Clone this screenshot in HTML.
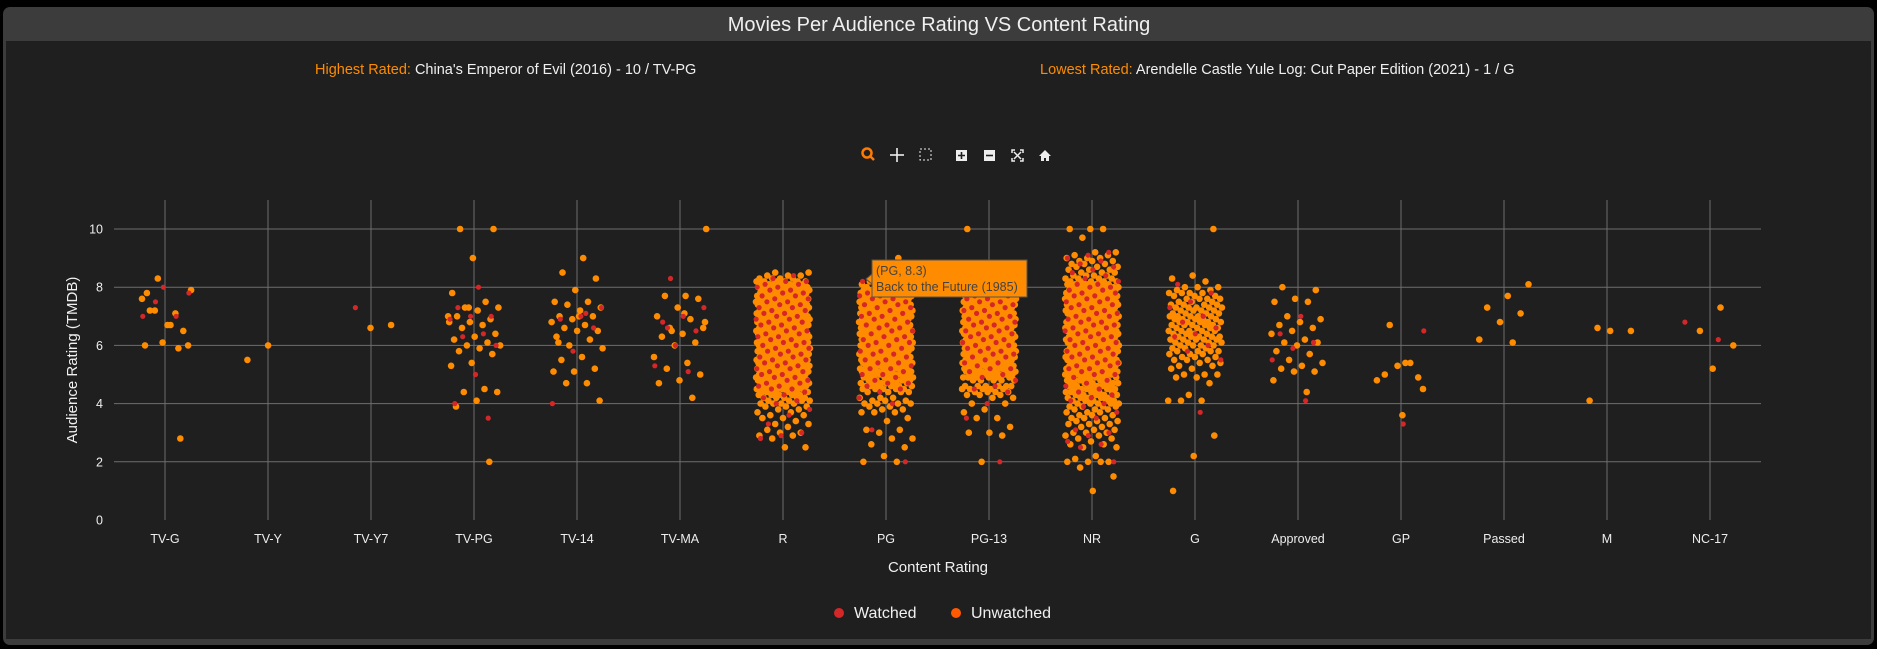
<!DOCTYPE html>
<html><head><meta charset="utf-8"><style>
html,body{margin:0;padding:0;background:#000;}
svg{display:block;font-family:"Liberation Sans","DejaVu Sans",sans-serif;}
</style></head><body>
<svg id="chart" width="1877" height="649" viewBox="0 0 1877 649">
<rect x="3" y="7" width="1871" height="638" rx="7" fill="#3c3c3c"/>
<rect x="6" y="41" width="1865" height="598" fill="#1f1f1f"/>
<text x="939" y="31" text-anchor="middle" font-size="20" fill="#f0f0f0">Movies Per Audience Rating VS Content Rating</text>
<text x="315" y="74" font-size="14.5"><tspan fill="#ff8c00">Highest Rated:</tspan><tspan fill="#f0f0f0"> China's Emperor of Evil (2016) - 10 / TV-PG</tspan></text>
<text x="1040" y="74" font-size="14.5"><tspan fill="#ff8c00">Lowest Rated:</tspan><tspan fill="#f0f0f0"> Arendelle Castle Yule Log: Cut Paper Edition (2021) - 1 / G</tspan></text>
<g id="toolbar">
  <g><circle cx="867" cy="153" r="4.5" fill="none" stroke="#ff7a00" stroke-width="2.5"/><line x1="870" y1="156" x2="874" y2="160" stroke="#ff7a00" stroke-width="2.5"/></g>
  <g stroke="#eee" stroke-width="1.6"><line x1="897" y1="148" x2="897" y2="162"/><line x1="890" y1="155" x2="904" y2="155"/></g>
  <rect x="920" y="149" width="11" height="11" fill="none" stroke="#eee" stroke-dasharray="2,2"/>
  <g><rect x="956" y="150" width="11" height="11" fill="#eee"/><path d="M958 155.5h7M961.5 152v7" stroke="#1f1f1f" stroke-width="1.6"/></g>
  <g><rect x="984" y="150" width="11" height="11" fill="#eee"/><path d="M986 155.5h7" stroke="#1f1f1f" stroke-width="1.6"/></g>
  <g fill="none" stroke="#eee" stroke-width="1.5"><path d="M1012 153v-3h3M1020 150h3v3M1023 158v3h-3M1015 161h-3v-3M1014 152l7 7M1021 152l-7 7"/></g>
  <g><path d="M1039 156l6-6 6 6h-2v5h-3v-3h-2v3h-3v-5z" fill="#eee"/></g>
</g>
<g id="grid"></g>
<g id="marks"></g>
<g id="tooltip">
  <path d="M866 279l6-5v10z" fill="#ff8c00" stroke="#555" stroke-width="1"/>
  <rect x="872" y="260" width="155" height="37" fill="#ff8c00" stroke="#555" stroke-width="1"/>
  <text x="876" y="275" font-size="12.5" fill="#444">(PG, 8.3)</text>
  <text x="876" y="291" font-size="12.5" fill="#444">Back to the Future (1985)</text>
</g>
<text x="938" y="572" text-anchor="middle" font-size="15" fill="#f0f0f0">Content Rating</text>
<text transform="translate(77,360) rotate(-90)" text-anchor="middle" font-size="15" fill="#f0f0f0">Audience Rating (TMDB)</text>
<g>
  <g><circle cx="839" cy="613" r="5" fill="#d62728"/><text x="854" y="618" font-size="16" fill="#f0f0f0">Watched</text></g>
  <g><circle cx="956" cy="613" r="5" fill="#ff5a00"/><text x="971" y="618" font-size="16" fill="#f0f0f0">Unwatched</text></g>
</g>
</svg>
<script>
const categories = ["TV-G","TV-Y","TV-Y7","TV-PG","TV-14","TV-MA","R","PG","PG-13","NR","G","Approved","GP","Passed","M","NC-17"];
const yTicks = [0,2,4,6,8,10];

const tvgUnwatched = [6.0,5.9,8.3,7.9,6.7,7.2,6.5,6.1,7.6,7.1,7.2,6.0,6.7,7.8,2.8];
const tvgWatched = [8.0,7.0,7.0,7.5,7.8];
const tvyUnwatched = [6.0,5.5];
const tvy7Unwatched = [6.7,6.6];
const tvy7Watched = [7.3];
const tvpgUnwatched = [10,10,9.0,7.8,7.5,7.3,7.3,7.2,7.0,6.9,6.8,6.8,6.7,6.6,6.4,6.3,6.2,6.1,6.0,6.0,5.9,5.8,5.7,5.4,5.3,4.5,4.4,4.4,4.1,3.9,2.0,7.3,7.0];
const tvpgWatched = [8.0,7.3,7.0,7.0,6.9,6.4,6.3,6.0,5.0,4.0,3.5];
const tv14Unwatched = [9.0,8.5,8.3,7.9,7.5,7.5,7.4,7.3,7.2,7.0,7.0,6.9,6.8,6.7,6.6,6.5,6.5,6.3,6.2,6.0,5.9,5.6,5.5,5.2,5.1,5.1,4.7,4.7,4.1,7.0,6.1];
const tv14Watched = [7.3,7.0,6.9,6.6,5.8,4.0,7.1];
const tvmaUnwatched = [10,7.7,7.7,7.6,7.3,7.0,6.9,6.6,6.6,6.4,6.3,6.1,6.0,5.6,5.4,5.2,5.0,4.8,4.7,4.2,6.5,6.8,7.1];
const tvmaWatched = [8.3,7.3,7.0,6.8,6.5,6.0,5.3,5.1,6.6];
const approvedUnwatched = [8.0,7.9,7.6,7.5,7.5,7.0,6.9,6.8,6.7,6.6,6.5,6.4,6.2,6.1,6.1,6.0,5.8,5.7,5.5,5.4,5.3,5.2,5.1,5.1,4.8,4.4];
const approvedWatched = [7.0,6.4,6.1,5.9,5.5,4.1];
const gpUnwatched = [5.4,5.0,4.9,5.3,4.8,5.4,6.7,4.5,3.6];
const gpWatched = [6.5,3.3];
const passedUnwatched = [8.1,7.7,7.3,7.1,6.8,6.2,6.1];
const mUnwatched = [6.6,6.5,6.5,4.1];
const nc17Unwatched = [7.3,6.5,6.0,5.2];
const nc17Watched = [6.8,6.2];

const rVals = [8.5,8.4,8.3,8.2,8.1,8.0,7.9,7.8,7.7,7.6,7.5,7.4,7.3,7.2,7.1,7.0,6.9,6.8,6.7,6.6,6.5,6.4,6.3,6.2,6.1,6.0,5.9,5.8,5.7,5.6,5.5,5.4,5.3,5.2,5.1,5.0,4.9,4.8,4.7,4.6,4.5,4.4,4.3,4.2,4.1,4.0,3.9,3.8,3.7,3.6,3.5,3.4,3.3,3.2,3.1,3.0,2.9,2.8,2.5];
const rUnwatchedCounts = [2,3,4,6,7,8,8,9,9,9,9,9,9,9,9,10,9,9,9,9,9,9,9,9,9,10,9,9,9,9,9,9,9,9,9,9,8,8,8,8,8,6,5,5,4,4,3,2,2,2,2,1,2,1,1,2,2,1,2];
const rWatchedCounts = [0,1,1,2,2,2,2,2,2,2,2,2,2,2,2,2,2,2,2,2,2,2,2,2,2,2,2,2,2,2,2,2,2,2,2,2,2,2,2,2,2,1,1,1,1,1,0,1,0,1,0,0,1,0,0,1,1,1,0];
const pgVals = [9.0,8.3,8.2,8.1,8.0,7.9,7.8,7.7,7.6,7.5,7.4,7.3,7.2,7.1,7.0,6.9,6.8,6.7,6.6,6.5,6.4,6.3,6.2,6.1,6.0,5.9,5.8,5.7,5.6,5.5,5.4,5.3,5.2,5.1,5.0,4.9,4.8,4.7,4.6,4.5,4.4,4.2,4.1,4.0,3.9,3.8,3.7,3.5,3.4,3.1,3.0,2.8,2.6,2.5,2.2,2.0];
const pgUnwatchedCounts = [1,2,3,4,6,7,7,7,8,8,8,8,8,8,8,8,8,8,8,8,8,8,8,8,8,8,8,8,8,8,7,7,7,7,7,6,6,6,6,5,4,3,3,4,2,2,3,1,1,2,1,2,1,1,1,2];
const pgWatchedCounts = [0,0,1,1,1,2,2,2,2,2,2,2,1,2,2,2,1,2,2,2,1,2,2,2,2,1,2,2,1,2,2,1,2,1,2,1,1,2,1,1,1,1,0,1,0,0,0,0,0,1,0,0,0,0,0,1];
const pg13Vals = [10,8.4,8.3,8.2,8.1,8.0,7.9,7.8,7.7,7.6,7.5,7.4,7.3,7.2,7.1,7.0,6.9,6.8,6.7,6.6,6.5,6.4,6.3,6.2,6.1,6.0,5.9,5.8,5.7,5.6,5.5,5.4,5.3,5.2,5.1,5.0,4.9,4.8,4.6,4.5,4.4,4.3,4.2,4.0,3.8,3.7,3.5,3.2,3.0,2.9,2.0];
const pg13UnwatchedCounts = [1,3,4,5,6,7,7,8,8,8,8,8,8,8,8,8,8,8,8,8,8,8,8,8,8,8,8,8,8,8,8,8,8,7,7,7,6,5,6,5,4,3,2,2,1,1,2,1,2,1,1];
const pg13WatchedCounts = [0,1,1,1,2,2,2,2,2,2,2,2,2,2,2,2,2,2,2,2,2,2,2,2,2,2,2,2,2,2,1,2,1,2,1,1,1,1,1,1,1,0,0,1,0,0,1,0,0,0,1];
const nrVals = [10,9.7,9.2,9.1,9.0,8.9,8.8,8.7,8.6,8.5,8.4,8.3,8.2,8.1,8.0,7.9,7.8,7.7,7.6,7.5,7.4,7.3,7.2,7.1,7.0,6.9,6.8,6.7,6.6,6.5,6.4,6.3,6.2,6.1,6.0,5.9,5.8,5.7,5.6,5.5,5.4,5.3,5.2,5.1,5.0,4.9,4.8,4.7,4.6,4.5,4.4,4.3,4.2,4.1,4.0,3.9,3.8,3.7,3.6,3.5,3.4,3.3,3.2,3.1,3.0,2.9,2.8,2.7,2.6,2.5,2.2,2.1,2.0,1.8,1.5,1.0];
const nrUnwatchedCounts = [3,1,2,2,3,3,3,3,3,3,4,4,5,7,8,8,9,9,9,9,9,9,9,9,9,9,9,9,9,9,9,9,9,9,9,9,9,9,9,9,9,9,9,9,8,6,6,6,6,6,6,5,5,5,5,4,3,3,3,3,3,3,2,2,3,2,2,1,2,2,1,1,4,1,1,1];
const nrWatchedCounts = [0,0,1,1,1,1,1,1,1,1,1,1,1,2,2,2,2,2,2,2,2,2,2,2,2,2,2,2,2,2,2,2,2,2,2,2,2,2,2,2,2,2,2,2,2,1,1,1,1,1,1,1,1,1,1,1,0,1,0,1,0,0,0,1,1,1,0,1,1,1,0,0,1,0,0,0];
const gVals = [10,8.4,8.3,8.2,8.0,7.9,7.8,7.7,7.6,7.5,7.4,7.3,7.2,7.1,7.0,6.9,6.8,6.7,6.6,6.5,6.4,6.3,6.2,6.1,6.0,5.9,5.8,5.7,5.6,5.5,5.4,5.3,5.2,5.0,4.9,4.7,4.3,4.1,2.9,2.2,1.0];
const gUnwatchedCounts = [1,1,1,1,3,2,4,3,4,3,4,5,4,4,5,5,5,5,4,5,4,5,5,4,4,3,4,3,3,3,2,2,2,3,2,1,1,3,1,1,1];
const gWatched = [8.1,7.8,7.5,7.3,7.0,6.8,6.6,6.4,6.3,6.0,5.8,5.5,3.7];

const SVGNS = "http://www.w3.org/2000/svg";
const plotLeft = 114, plotRight = 1761, yTop = 200, yZero = 520, perUnit = 29.1;
const firstCatX = 165, catStep = 103;
function xScale(ci){ return firstCatX + ci*catStep; }
function yScale(v){ return yZero - v*perUnit; }
function expand(vals, counts){ const out=[]; vals.forEach((v,i)=>{ for(let k=0;k<counts[i];k++) out.push(v); }); return out; }

const grid = document.getElementById('grid');
const marks = document.getElementById('marks');
yTicks.forEach(t=>{
  const y = yScale(t);
  if (t>0){
    const l = document.createElementNS(SVGNS,'line');
    l.setAttribute('x1',plotLeft); l.setAttribute('x2',plotRight); l.setAttribute('y1',y); l.setAttribute('y2',y);
    l.setAttribute('stroke','#6e6e6e'); l.setAttribute('stroke-width','1');
    
    
    grid.appendChild(l);
  }
  const tx = document.createElementNS(SVGNS,'text');
  tx.setAttribute('x',103); tx.setAttribute('y',y+4.5); tx.setAttribute('text-anchor','end');
  tx.setAttribute('font-size','12.5'); tx.setAttribute('fill','#eee'); tx.textContent = t;
  
  
  grid.appendChild(tx);
});
categories.forEach((c,i)=>{
  const x = xScale(i);
  const l = document.createElementNS(SVGNS,'line');
  l.setAttribute('x1',x); l.setAttribute('x2',x); l.setAttribute('y1',yTop); l.setAttribute('y2',yZero);
  l.setAttribute('stroke','#6e6e6e'); l.setAttribute('stroke-width','1');
  
  
  grid.appendChild(l);
  const tx = document.createElementNS(SVGNS,'text');
  tx.setAttribute('x',x); tx.setAttribute('y',543); tx.setAttribute('text-anchor','middle');
  tx.setAttribute('font-size','12.5'); tx.setAttribute('fill','#eee'); tx.textContent = c;
  
  
  grid.appendChild(tx);
});

const unwatchedSeries = [tvgUnwatched,tvyUnwatched,tvy7Unwatched,tvpgUnwatched,tv14Unwatched,tvmaUnwatched,
  expand(rVals,rUnwatchedCounts),expand(pgVals,pgUnwatchedCounts),expand(pg13Vals,pg13UnwatchedCounts),
  expand(nrVals,nrUnwatchedCounts),expand(gVals,gUnwatchedCounts),approvedUnwatched,gpUnwatched,passedUnwatched,mUnwatched,nc17Unwatched];
const watchedSeries = [tvgWatched,[],tvy7Watched,tvpgWatched,tv14Watched,tvmaWatched,
  expand(rVals,rWatchedCounts),expand(pgVals,pgWatchedCounts),expand(pg13Vals,pg13WatchedCounts),
  expand(nrVals,nrWatchedCounts),gWatched,approvedWatched,gpWatched,[],[],nc17Watched];

function drawSeries(series, color, name, seed, radius){
  series.forEach((vals,ci)=>{
    vals.forEach((v,i)=>{
      const frac = ((i*0.618034 + ci*0.371 + seed) % 1);
      const c = document.createElementNS(SVGNS,'circle');
      c.setAttribute('cx', (xScale(ci) + (frac-0.5)*54).toFixed(1));
      c.setAttribute('cy', yScale(v).toFixed(1));
      c.setAttribute('r', radius);
      c.setAttribute('fill', color);
      
      
      marks.appendChild(c);
    });
  });
}
drawSeries(unwatchedSeries, '#ff8c00', 'unwatched-point', 0.13, '3.3');
drawSeries(watchedSeries, '#d62728', 'watched-point', 0.47, '2.6');
</script>
</body></html>
